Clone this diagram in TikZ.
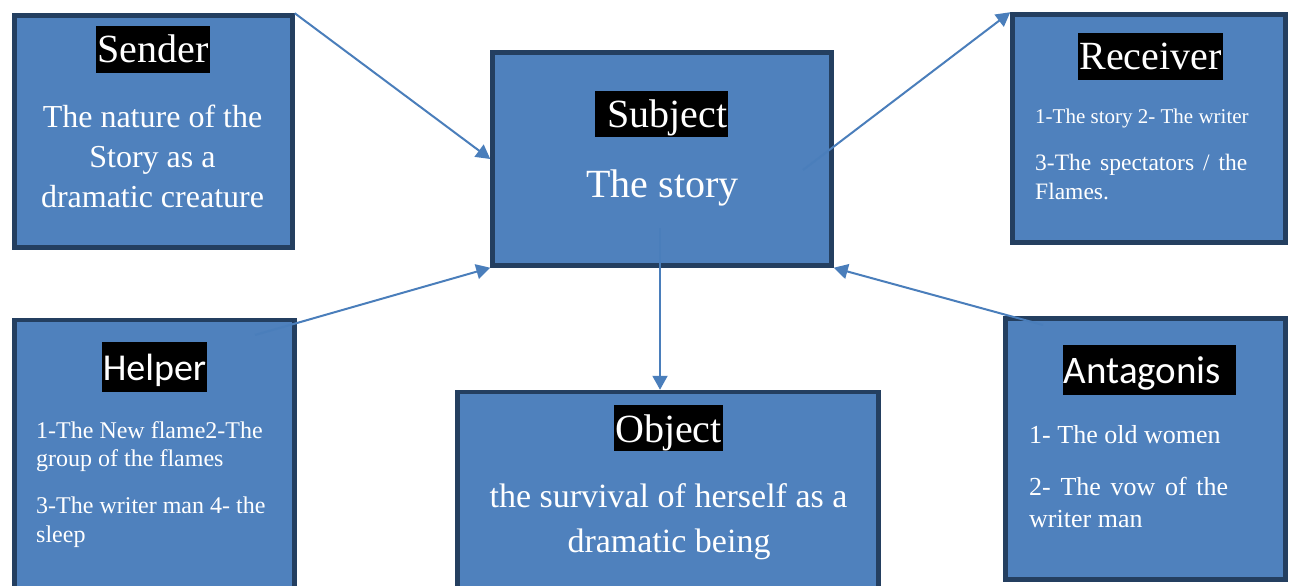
\documentclass[tikz,border=0pt]{standalone}
\usepackage{fontspec}
\setmainfont{Liberation Serif}
\newfontfamily\calib{Carlito}
\usetikzlibrary{arrows.meta,calc}
\definecolor{boxfill}{HTML}{4F81BD}
\definecolor{boxline}{HTML}{243F60}
\definecolor{arrowc}{HTML}{4A7EBB}
\tikzset{
  abox/.style={draw=boxline, fill=boxfill, line width=4.5pt, inner sep=0pt},
  ttl/.style={fill=black, text=white, inner ysep=0pt, inner xsep=1pt, anchor=base,
              text height=37pt, text depth=10pt, font=\fontsize{40}{48}\selectfont},
  sttl/.style={ttl, text height=38pt, text depth=12pt, font=\calib\fontsize{38}{46}\selectfont},
  txt/.style={text=white, inner sep=0pt},
  conn/.style={draw=arrowc, line width=2pt, -{Triangle[length=14pt,width=15pt]}}
}
\begin{document}
\begin{tikzpicture}[x=1pt,y=-1pt]
\clip (0,0) rectangle (1290,586);
\fill[white] (0,0) rectangle (1290,586);
% boxes
\node[abox, minimum width=278pt, minimum height=232pt] (sender) at (153.5,131.5) {};
\node[abox, minimum width=339pt, minimum height=213pt] (subject) at (662,159) {};
\node[abox, minimum width=273pt, minimum height=228pt] (receiver) at (1149,128.5) {};
\node[abox, minimum width=280pt, minimum height=280pt] (helper) at (154.5,460) {};
\node[abox, minimum width=421pt, minimum height=208pt] (object) at (668,496) {};
\node[abox, minimum width=280pt, minimum height=261pt] (antag) at (1145.5,449) {};
% titles
\node[ttl] (sendert) at (153,63) {Sender};
\node[ttl, text height=36pt] (subjectt) at (661.5,127) {\hspace*{12pt}Subject};
\node[ttl] (receivert) at (1150.5,70) {Receiver};
\node[sttl] (helpert) at (154.5,380) {Helper};
\node[ttl, text depth=9pt] (objectt) at (668.5,442) {Object};
\node[sttl, font=\calib\fontsize{39}{46}\selectfont] (antagt) at (1149.5,383) {Antagonis\hspace*{14pt}};
% sender text
\begin{scope}[every node/.style={txt, anchor=base, font=\fontsize{32}{40}\selectfont}]
\node (s1) at (152.5,127) {The nature of the};
\node (s2) at (152.5,167) {Story as a};
\node (s3) at (152.5,207) {dramatic creature};
\end{scope}
% subject text
\node[txt, anchor=base, font=\fontsize{40}{48}\selectfont] (sb1) at (662.5,197) {The story};
% receiver text
\node[txt, anchor=base west, font=\fontsize{21}{25}\selectfont] (r1) at (1035,123) {1-The story 2- The writer};
\begin{scope}[every node/.style={txt, anchor=base west, font=\fontsize{23.5}{29}\selectfont}]
\node (r2) at (1035,170) {\makebox[212pt][s]{3-The spectators / the}};
\node (r3) at (1035,199) {Flames.};
\end{scope}
% helper text
\begin{scope}[every node/.style={txt, anchor=base west, font=\fontsize{24}{28}\selectfont}]
\node (h1) at (36,438) {1-The New flame2-The};
\node (h2) at (36,466) {group of the flames};
\node (h3) at (36,513) {3-The writer man 4- the};
\node (h4) at (36,542) {sleep};
\end{scope}
% object text
\begin{scope}[every node/.style={txt, anchor=base, font=\fontsize{34}{44}\selectfont}]
\node (o1) at (668.5,507) {the survival of herself as a};
\node (o2) at (669,552) {dramatic being};
\end{scope}
% antagonist text
\begin{scope}[every node/.style={txt, anchor=base west, font=\fontsize{26}{31}\selectfont}]
\node (a1) at (1029,443) {1- The old women};
\node (a2) at (1029,495) {\makebox[199pt][s]{2- The vow of the}};
\node (a3) at (1029,527) {writer man};
\end{scope}
% connectors
\coordinate (rcvstart) at (803,170);
\coordinate (hlpstart) at (255,335);
\coordinate (antstart) at (1043,325);
\coordinate (objstart) at (660,228);
\draw[conn] (sender.north east) -- (subject.west);
\draw[conn] (rcvstart) -- (receiver.north west);
\draw[conn] (hlpstart) -- (subject.south west);
\draw[conn] (antstart) -- (subject.south east);
\draw[conn] (objstart) -- (objstart |- object.north);
\end{tikzpicture}
\end{document}
